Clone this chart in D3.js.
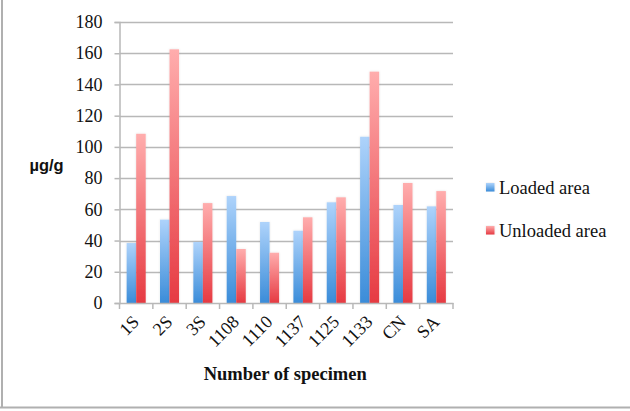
<!DOCTYPE html>
<html><head><meta charset="utf-8">
<script src="https://cdn.jsdelivr.net/npm/d3@7"></script>
<style>body{margin:0;background:#fff}svg{display:block}</style>
</head><body>
<svg id="c" width="630" height="411"></svg>
<script>
const categories = ["1S","2S","3S","1108","1110","1137","1125","1133","CN","SA"];
const loaded   = [38.4, 53.4, 39.1, 68.5, 51.9, 46.3, 64.5, 106.5, 62.8, 61.9];
const unloaded = [108.4, 162.5, 64, 34.6, 32.2, 54.9, 67.7, 148.2, 76.9, 71.7];
const seriesNames = ["Loaded area","Unloaded area"];
const yTicks = [0,20,40,60,80,100,120,140,160,180];

const svg = d3.select("#c");
const L = 119.5, R = 453, T = 22, B = 303;
const x = d3.scaleBand().domain(categories).range([L,R]).paddingInner(0).paddingOuter(0);
const x1 = d3.scaleBand().domain(seriesNames).range([0, x.bandwidth()]).paddingInner(0).paddingOuter(0.75);
const y = d3.scaleLinear().domain([0,180]).range([B,T]);

const defs = svg.append("defs");
const grads = [["gBlue","#aed3fb","#3a8cd9"],["gRed","#ffadad","#e63a42"]];
grads.forEach(([id,top,bot])=>{
  const g = defs.append("linearGradient").attr("id",id).attr("x1",0).attr("y1",0).attr("x2",0).attr("y2",1);
  g.append("stop").attr("offset","0%").attr("stop-color",top);
  g.append("stop").attr("offset","100%").attr("stop-color",bot);
});
const f = defs.append("filter").attr("id","glow").attr("x","-30%").attr("y","-5%").attr("width","160%").attr("height","110%");
f.append("feGaussianBlur").attr("in","SourceAlpha").attr("stdDeviation",1.2).attr("result","b");
f.append("feFlood").attr("flood-color","#000").attr("flood-opacity",0.12);
f.append("feComposite").attr("in2","b").attr("operator","in").attr("result","s");
const m = f.append("feMerge"); m.append("feMergeNode").attr("in","s"); m.append("feMergeNode").attr("in","SourceGraphic");

// frame lines
svg.append("line").attr("x1",2).attr("x2",2).attr("y1",0).attr("y2",408).attr("stroke","#b0b0b0").attr("stroke-width",2);
svg.append("line").attr("x1",0).attr("x2",630).attr("y1",407.5).attr("y2",407.5).attr("stroke","#b0b0b0").attr("stroke-width",2);

// gridlines
svg.append("g").selectAll("line").data(yTicks.filter(d=>d>0)).join("line")
  .attr("x1",L).attr("x2",R).attr("y1",d=>Math.round(y(d))+0.5).attr("y2",d=>Math.round(y(d))+0.5)
  .attr("stroke","#b8b8b8").attr("stroke-width",1.5);

// y axis
const ya = svg.append("g").attr("transform",`translate(${L},0)`)
  .call(d3.axisLeft(y).tickValues(yTicks).tickSize(5).tickPadding(12));
ya.select(".domain").attr("stroke","#b8b8b8").attr("stroke-width",1.5);
ya.selectAll(".tick line").attr("stroke","#b8b8b8").attr("stroke-width",1.5);
ya.selectAll("text").attr("font-family","'Liberation Serif', serif").attr("font-size",18).attr("fill","#111");

// bars
const data = categories.map((c,i)=>({c, vals:[loaded[i],unloaded[i]]}));
const grp = svg.append("g").selectAll("g").data(data).join("g").attr("transform",d=>`translate(${x(d.c)},0)`);
grp.selectAll("rect").data(d=>d.vals.map((v,k)=>({k,v}))).join("rect")
  .attr("x",d=>x1(seriesNames[d.k])).attr("width",x1.bandwidth())
  .attr("y",d=>y(d.v)).attr("height",d=>B-y(d.v))
  .attr("fill",d=>d.k===0?"url(#gBlue)":"url(#gRed)").attr("filter","url(#glow)");

// x axis
const xa = svg.append("g").attr("transform",`translate(0,${B})`)
  .call(d3.axisBottom(x).tickSize(0).tickFormat(""));
xa.select(".domain").attr("stroke","#b8b8b8").attr("stroke-width",1.5);
xa.selectAll(".tick").remove();
const bounds = categories.map(c=>x(c)).concat([R]);
svg.append("g").selectAll("line").data(bounds).join("line")
  .attr("x1",d=>d).attr("x2",d=>d).attr("y1",B).attr("y2",B+6)
  .attr("stroke","#b8b8b8").attr("stroke-width",1.5);
svg.append("g").selectAll("text").data(categories).join("text")
  .attr("transform",d=>`translate(${x(d)+x.bandwidth()/2+4},${B+20}) rotate(-45)`)
  .attr("text-anchor","end").attr("font-family","'Liberation Serif', serif").attr("font-size",18)
  .attr("fill","#111").text(d=>d);

// axis titles
svg.append("text").attr("x",46.5).attr("y",171).attr("text-anchor","middle")
  .attr("font-family","'Liberation Sans', Arial, sans-serif").attr("font-weight","bold").attr("font-size",16.5)
  .attr("fill","#111").text("µg/g");
svg.append("text").attr("x",(L+R)/2-1).attr("y",380).attr("text-anchor","middle")
  .attr("font-family","'Liberation Serif', serif").attr("font-weight","bold").attr("font-size",18.5)
  .attr("fill","#111").text("Number of specimen");

// legend
const lg = svg.append("g").selectAll("g").data(seriesNames).join("g")
  .attr("transform",(d,i)=>`translate(486,${183+i*43})`);
lg.append("rect").attr("width",8.5).attr("height",8.5)
  .attr("fill",(d,i)=>i===0?"url(#gBlue)":"url(#gRed)").attr("filter","url(#glow)");
lg.append("text").attr("x",13).attr("y",10.5).attr("font-family","'Liberation Serif', serif").attr("font-size",18.5)
  .attr("fill","#111").text(d=>d);
</script>
</body></html>
